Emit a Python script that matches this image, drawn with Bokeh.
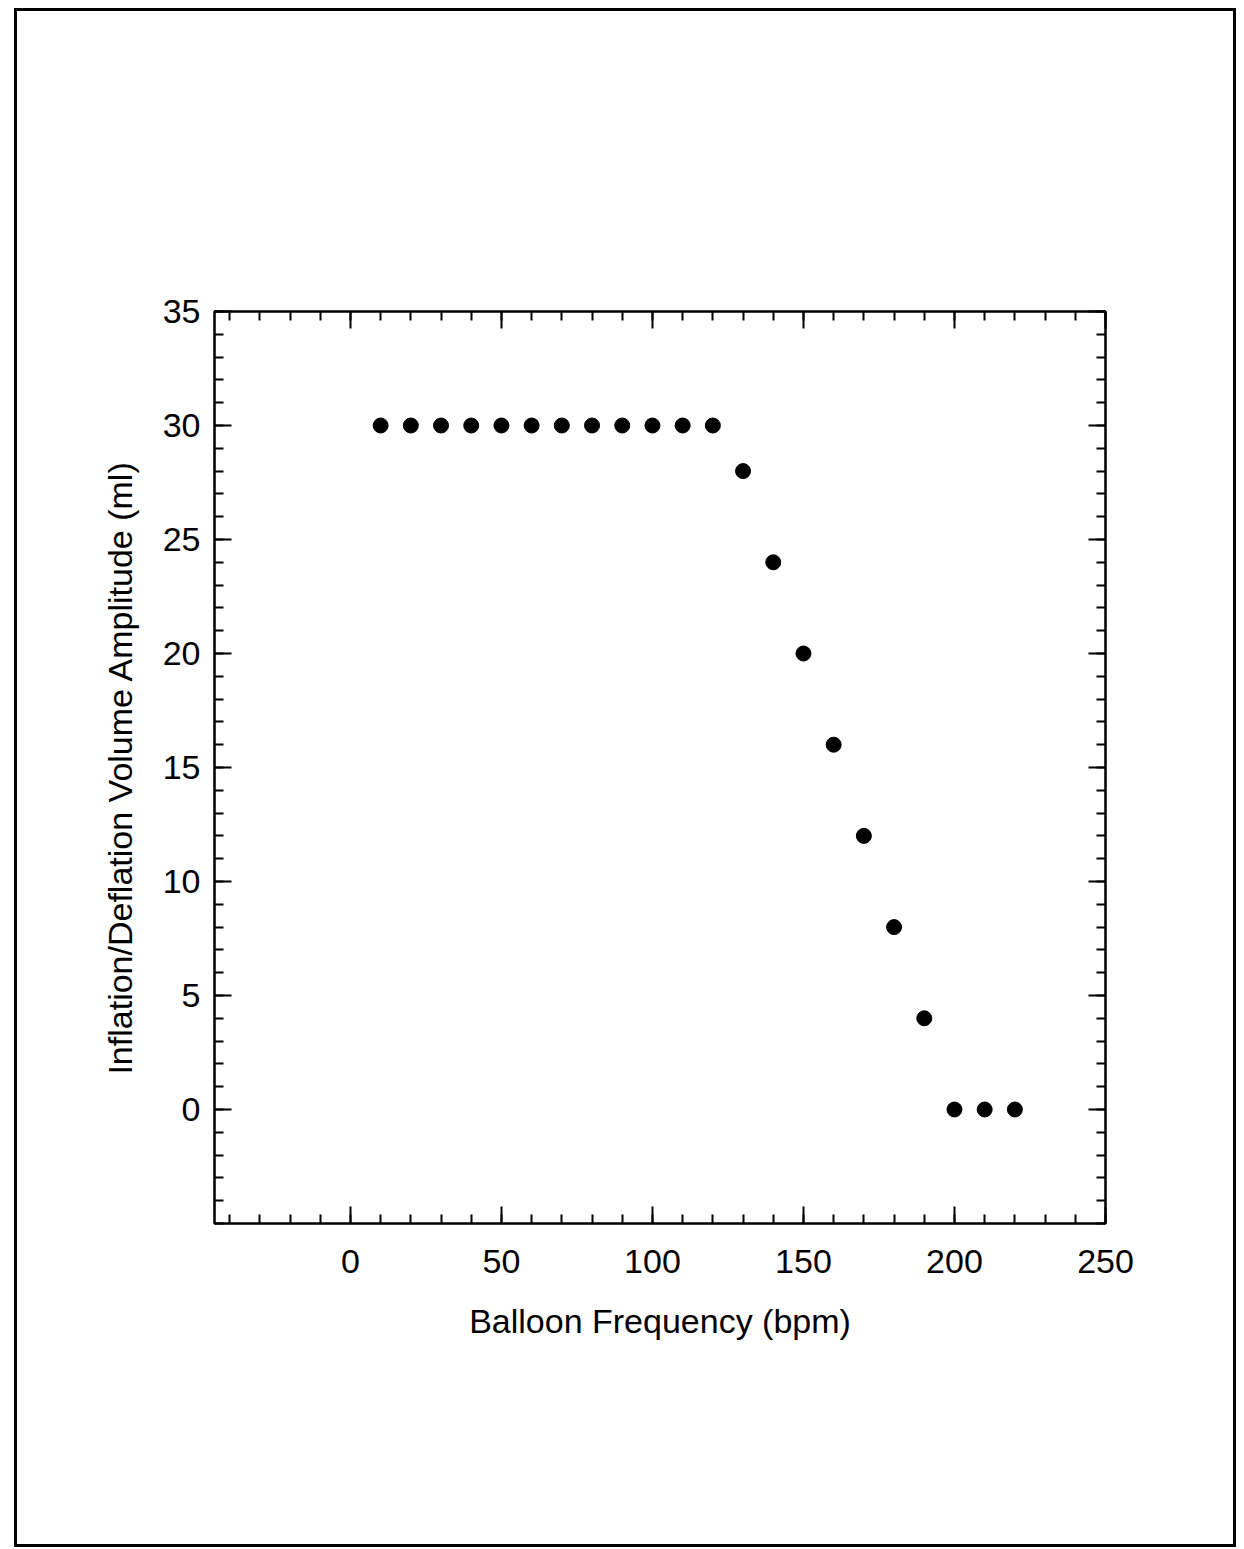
from bokeh.plotting import figure
from bokeh.models import (LinearAxis, FixedTicker, Range1d, InlineStyleSheet)
from bokeh.embed import file_html
from bokeh.resources import INLINE

# Data
frequency_bpm = [10, 20, 30, 40, 50, 60, 70, 80, 90, 100, 110, 120,
                 130, 140, 150, 160, 170, 180, 190, 200, 210, 220]
volume_amplitude_ml = [30, 30, 30, 30, 30, 30, 30, 30, 30, 30, 30, 30,
                       28, 24, 20, 16, 12, 8, 4, 0, 0, 0]

x_major = [0, 50, 100, 150, 200, 250]
x_minor = [-40, -30, -20, -10, 0, 10, 20, 30, 40, 50, 60, 70, 80, 90, 100,
           110, 120, 130, 140, 150, 160, 170, 180, 190, 200, 210, 220, 230,
           240, 250]
y_major = [0, 5, 10, 15, 20, 25, 30, 35]
y_minor = [-5, -4, -3, -2, -1, 0, 1, 2, 3, 4, 5, 6, 7, 8, 9, 10, 11, 12, 13,
           14, 15, 16, 17, 18, 19, 20, 21, 22, 23, 24, 25, 26, 27, 28, 29, 30,
           31, 32, 33, 34, 35]

FONT = "Liberation Sans"
FS = "34px"

W, H = 1244, 1549
p = figure(width=W, height=H, output_backend="svg", toolbar_location=None,
           x_range=Range1d(-45, 250), y_range=Range1d(-5, 35),
           x_axis_location=None, y_axis_location=None,
           min_border_left=214, min_border_right=139,
           min_border_top=311, min_border_bottom=326)
p.xgrid.visible = False
p.ygrid.visible = False
p.background_fill_color = "white"
p.border_fill_color = "white"
p.outline_line_color = "black"
p.outline_line_width = 2

def style(ax, ticks, labels=True):
    ax.axis_line_color = "black"
    ax.axis_line_width = 2
    ax.major_tick_line_color = "black"
    ax.major_tick_line_width = 2
    ax.minor_tick_line_color = "black"
    ax.minor_tick_line_width = 2
    ax.major_tick_in = 17
    ax.major_tick_out = 0
    ax.minor_tick_in = 9
    ax.minor_tick_out = 0
    ax.major_label_text_font = FONT
    ax.major_label_text_color = "black"
    ax.axis_label_text_font = FONT
    ax.axis_label_text_font_style = "normal"
    ax.axis_label_text_color = "black"
    ax.axis_label_text_font_size = FS
    ax.major_label_text_font_size = FS
    if not labels:
        ax.major_label_overrides = {t: "" for t in ticks}
        ax.major_label_standoff = 0

xb = LinearAxis(ticker=FixedTicker(ticks=x_major, minor_ticks=x_minor),
                axis_label="Balloon Frequency (bpm)")
style(xb, x_major)
xb.major_label_standoff = 26
xb.axis_label_standoff = 26
p.add_layout(xb, "below")

xt = LinearAxis(ticker=FixedTicker(ticks=x_major, minor_ticks=x_minor))
style(xt, x_major, labels=False)
p.add_layout(xt, "above")

yl = LinearAxis(ticker=FixedTicker(ticks=y_major, minor_ticks=y_minor),
                axis_label="Inflation/Deflation Volume Amplitude (ml)")
style(yl, y_major)
yl.major_label_standoff = 14
yl.axis_label_standoff = 21
p.add_layout(yl, "left")

yr = LinearAxis(ticker=FixedTicker(ticks=y_major, minor_ticks=y_minor))
style(yr, y_major, labels=False)
p.add_layout(yr, "right")

p.scatter(frequency_bpm, volume_amplitude_ml, size=15, marker="circle",
          fill_color="black", line_color="black")

# outer page frame of the figure sheet
p.stylesheets = [InlineStyleSheet(css="""
:host { position: relative; }
:host::after {
  content: "";
  position: absolute;
  left: 14px; top: 8px; width: 1222px; height: 1539px;
  box-sizing: border-box;
  border: 3px solid black;
  pointer-events: none;
}
""")]

open("out.html", "w").write(file_html(p, INLINE))
